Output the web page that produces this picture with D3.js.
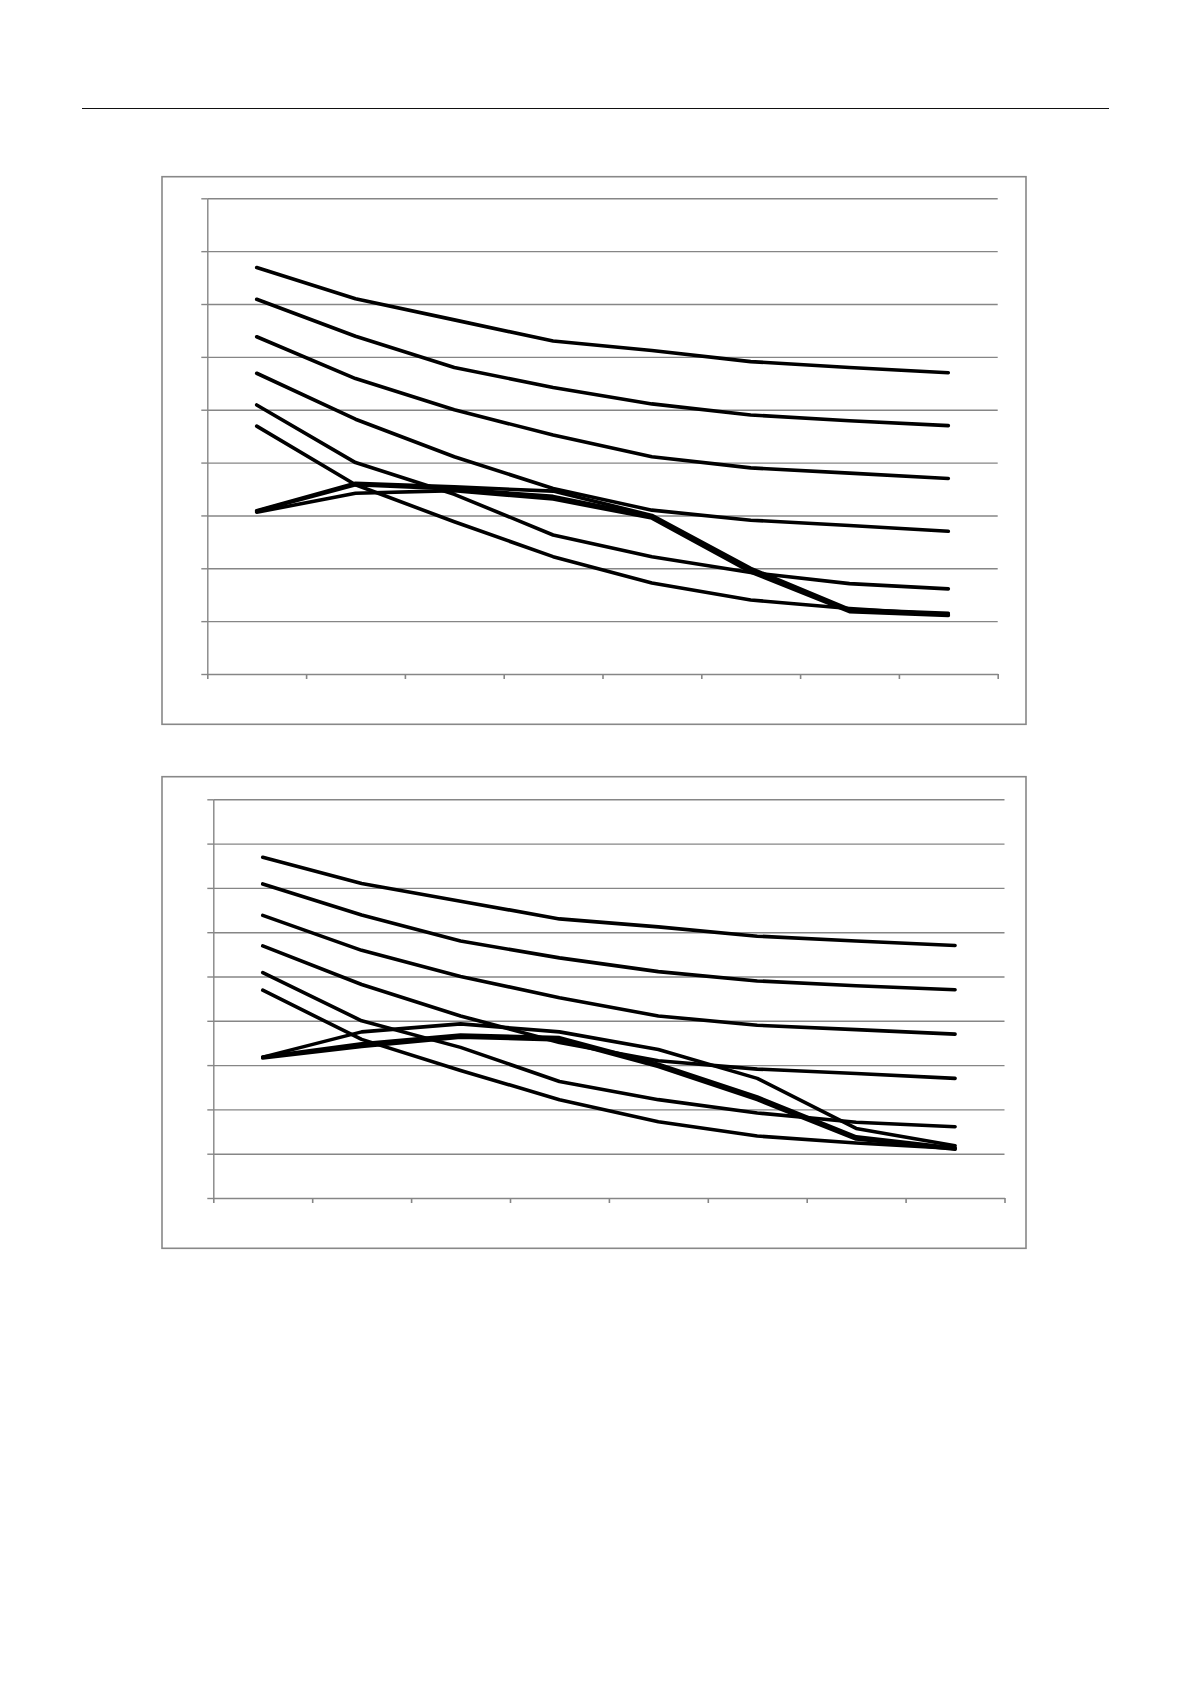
<!DOCTYPE html>
<html>
<head>
<meta charset="utf-8">
<script src="https://cdn.jsdelivr.net/npm/d3@7"></script>
<style>
  body { margin: 0; background: #fff; }
  svg { display: block; }
</style>
</head>
<body>
<svg id="page" width="1191" height="1684"></svg>
<script>
// categories along x (no labels are printed on the chart)
const categories = ["1", "2", "3", "4", "5", "6", "7", "8"];
const yTicks = [0, 1, 2, 3, 4, 5, 6, 7, 8, 9];

// the six falling curves, same in both charts
const line1 = [7.69, 7.10, 6.70, 6.30, 6.12, 5.91, 5.80, 5.70];
const line2 = [7.09, 6.39, 5.80, 5.42, 5.11, 4.90, 4.79, 4.70];
const line3 = [6.38, 5.59, 5.00, 4.52, 4.11, 3.90, 3.80, 3.70];
const line4 = [5.69, 4.82, 4.11, 3.51, 3.10, 2.91, 2.81, 2.70];
const line5 = [5.09, 4.00, 3.40, 2.63, 2.22, 1.92, 1.71, 1.61];
const line6 = [4.69, 3.58, 2.88, 2.22, 1.72, 1.40, 1.24, 1.12];

// the bundle of curves that rise then fall, top chart
const topBundle1 = [3.09, 3.61, 3.54, 3.46, 3.00, 2.00, 1.22, 1.15];
const topBundle2 = [3.08, 3.58, 3.50, 3.36, 2.98, 1.97, 1.20, 1.13];
const topBundle3 = [3.06, 3.42, 3.47, 3.31, 2.95, 1.93, 1.18, 1.11];

// same bundle, bottom chart
const bottomBundle1 = [3.18, 3.75, 3.93, 3.75, 3.35, 2.70, 1.57, 1.18];
const bottomBundle2 = [3.18, 3.48, 3.68, 3.62, 3.02, 2.28, 1.38, 1.13];
const bottomBundle3 = [3.16, 3.42, 3.63, 3.57, 2.97, 2.22, 1.33, 1.10];

const gridColor = "#868686";
var svg = d3.select("#page");

// header rule across the page
svg.append("line")
    .attr("x1", 82).attr("x2", 1109)
    .attr("y1", 108.5).attr("y2", 108.5)
    .attr("stroke", "#111")
    .attr("stroke-width", 1.2);

function drawChart(box, plot, seriesList) {
    //outer frame
    svg.append("rect")
        .attr("x", box.x).attr("y", box.y)
        .attr("width", box.w).attr("height", box.h)
        .attr("fill", "none")
        .attr("stroke", "#888")
        .attr("stroke-width", 1.6);

    var g = svg.append("g");

    var y = d3.scaleLinear()
        .domain([0, 9])
        .range([plot.bottom, plot.top]);

    var x = d3.scalePoint()
        .domain(categories)
        .range([plot.left, plot.right])
        .padding(0.5);

    // tick positions sit on the category boundaries
    var xEdge = d3.scaleLinear()
        .domain([0, categories.length])
        .range([plot.left, plot.right]);

    //gridlines
    g.append("g")
        .attr("transform", "translate(" + plot.left + ",0)")
        .call(d3.axisRight(y).tickValues(yTicks.slice(1)).tickSize(plot.right - plot.left).tickFormat(""))
        .call(a => a.select(".domain").remove())
        .selectAll("line")
        .attr("stroke", gridColor)
        .attr("stroke-width", 1.4);

    // y axis with small outside ticks
    g.append("g")
        .attr("transform", "translate(" + plot.left + ",0)")
        .call(d3.axisLeft(y).tickValues(yTicks).tickSize(6).tickSizeOuter(0).tickFormat(""))
        .call(a => a.selectAll("line, path").attr("stroke", gridColor).attr("stroke-width", 1.4));

    // x axis
    g.append("g")
        .attr("transform", "translate(0," + plot.bottom + ")")
        .call(d3.axisBottom(xEdge).tickValues(d3.range(categories.length + 1)).tickSize(5).tickSizeOuter(0).tickFormat(""))
        .call(a => a.selectAll("line, path").attr("stroke", gridColor).attr("stroke-width", 1.6));

    var line = d3.line()
        .x((d, i) => x(categories[i]))
        .y(d => y(d));

    g.selectAll(".series")
        .data(seriesList)
        .enter().append("path")
        .attr("class", "series")
        .attr("d", line)
        .attr("fill", "none")
        .attr("stroke", "#000")
        .attr("stroke-width", 3.6)
        .attr("stroke-linecap", "round")
        .attr("stroke-linejoin", "round");
}

drawChart(
    {x: 162, y: 176.7, w: 864, h: 547.6},
    {left: 207.3, right: 997.7, top: 198.3, bottom: 674},
    [line1, line2, line3, line4, line5, line6, topBundle1, topBundle2, topBundle3]
);

drawChart(
    {x: 162, y: 776.7, w: 864, h: 471.6},
    {left: 213.3, right: 1004.5, top: 799.3, bottom: 1198},
    [line1, line2, line3, line4, line5, line6, bottomBundle1, bottomBundle2, bottomBundle3]
);
</script>
</body>
</html>
